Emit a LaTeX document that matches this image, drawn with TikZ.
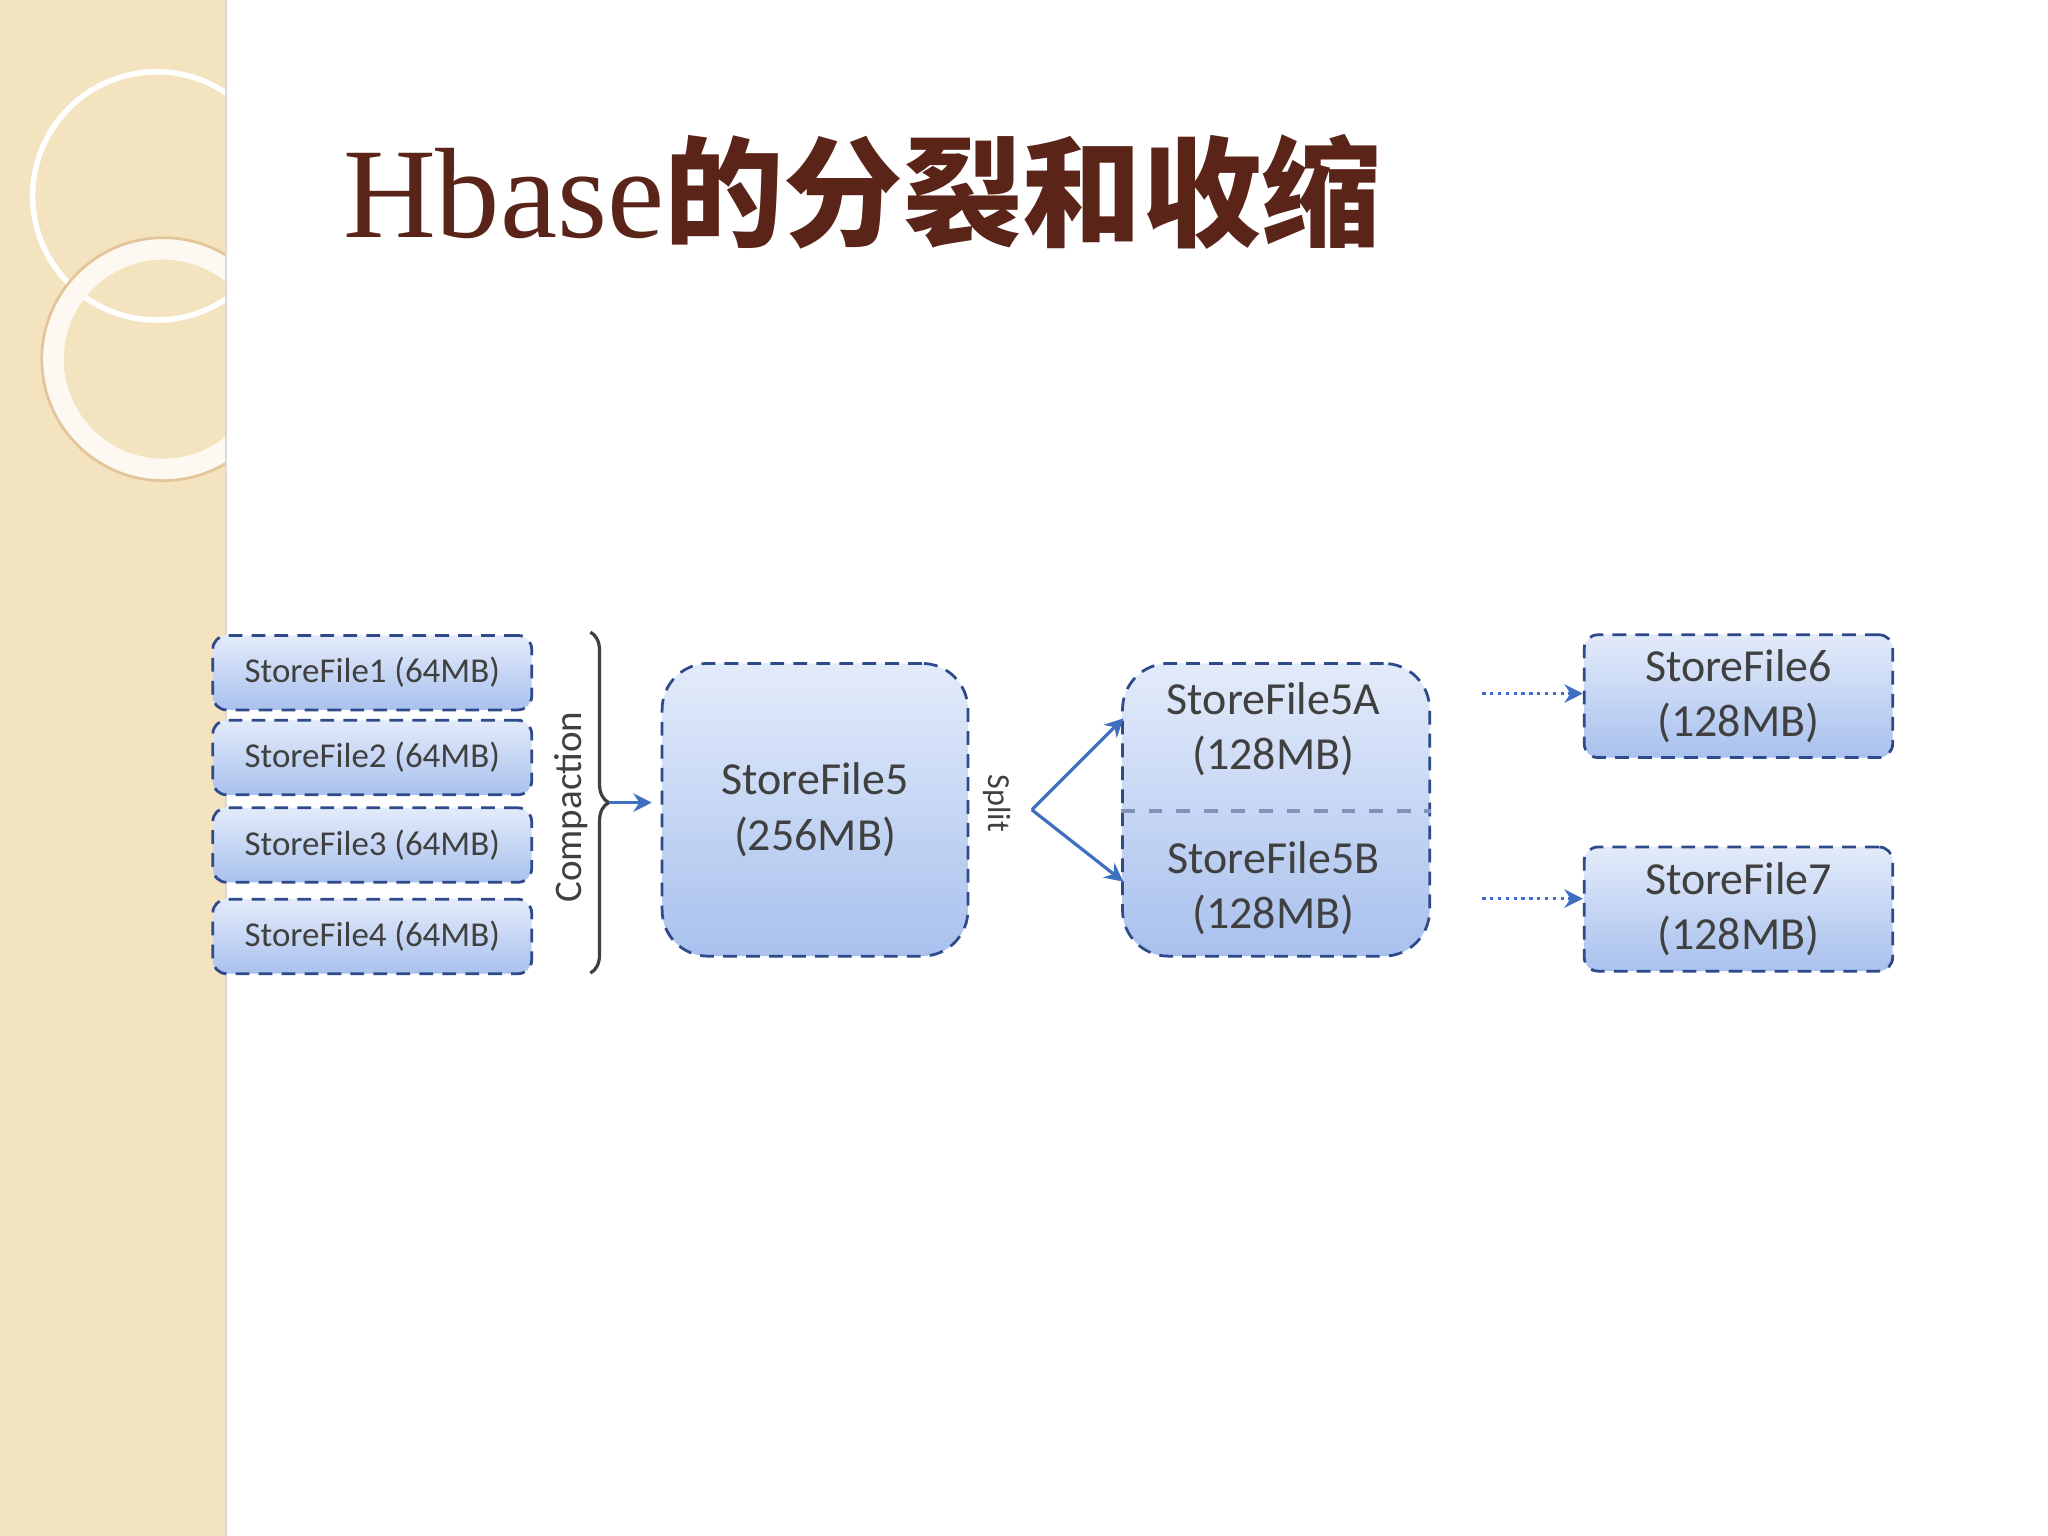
\documentclass[tikz,border=0pt]{standalone}
\usepackage{fontspec}
\setmainfont{Carlito}
\newfontfamily\titlefont{Liberation Serif}
\newfontfamily\cjk{Noto Sans CJK SC}
\usetikzlibrary{arrows.meta,decorations.pathreplacing,shadings}
\definecolor{bordc}{HTML}{2F4A8A}
\definecolor{topc}{HTML}{E3EBFA}
\definecolor{botc}{HTML}{A9C1EE}
\definecolor{titc}{HTML}{5A2418}
\definecolor{arrc}{HTML}{3F6FC0}
\definecolor{beige}{HTML}{F3E3BF}
\tikzset{
 sf/.style={draw=bordc,densely dashed,line width=0.6pt,rounded corners=3pt,top color=topc,bottom color=botc,inner sep=0pt},
 lbl/.style={text=black!75,align=center},
 small/.style={font=\fontsize{7.6}{9}\selectfont},
 big/.style={font=\fontsize{10}{12}\selectfont},
 arr/.style={draw=arrc,line width=0.7pt,-{Stealth[length=4pt,width=4pt]}},
 darr/.style={arr,densely dotted}
}
\begin{document}
\begin{tikzpicture}[x=0.01cm,y=-0.01cm]
\useasboundingbox (0,0) rectangle (1568,1176);
\fill[white] (0,0) rectangle (1568,1176);
\fill[beige] (0,0) rectangle (173,1176);
\begin{scope}
\clip (0,0) rectangle (173,1176);
\draw[white,line width=1.2pt] (120,150) circle (95);
\draw[white!80!beige,line width=5pt] (125,275) circle (85);
\draw[beige!70!brown,line width=0.6pt] (125,275) circle (93);
\end{scope}
\draw[black!15,line width=0.6pt] (173,0) -- (173,1176);
\node[anchor=base west,text=titc,inner sep=0] (title) at (262,182)
 {\titlefont\fontsize{28}{32}\selectfont Hbase\cjk\fontsize{26}{30}\selectfont\bfseries 的分裂和收缩};
\foreach \i/\y in {1/515,2/580,3/647,4/717}{
 \node[sf,minimum width=2.44cm,minimum height=0.57cm,lbl,small] (f\i) at (285,\y) {StoreFile\i\ (64MB)};
}
\draw[black!75,line width=0.7pt,decorate,decoration={brace,amplitude=4pt}] (452,484) -- (452,745);
\coordinate (btip) at (466,614.5);
\coordinate (bend) at (499,614.5);
\node[rotate=90,lbl,font=\fontsize{8.5}{10}\selectfont] (comp) at (437,618) {Compaction};
\node[sf,rounded corners=10pt,minimum width=2.34cm,minimum height=2.24cm,lbl,big] (f5) at (624,620) {StoreFile5\\(256MB)};
\draw[arr] (btip) -- (bend);
\node[rotate=-90,lbl,font=\fontsize{7}{8}\selectfont] (split) at (763,615) {Split};
\coordinate (sp) at (790,620);
\node[sf,rounded corners=10pt,minimum width=2.35cm,minimum height=2.24cm] (f5ab) at (977,620) {};
\draw[bordc!60,dashed,line width=0.8pt] (f5ab.west |- 0,621) -- (f5ab.east |- 0,621);
\node[lbl,big] (f5a) at (975,558) {StoreFile5A\\(128MB)};
\node[lbl,big] (f5b) at (975,680) {StoreFile5B\\(128MB)};
\draw[arr] (sp) -- (860,550);
\draw[arr] (sp) -- (860,675);
\node[sf,minimum width=2.36cm,minimum height=0.94cm,lbl,big] (f6) at (1331,533) {StoreFile6\\(128MB)};
\node[sf,minimum width=2.36cm,minimum height=0.95cm,lbl,big] (f7) at (1331,696) {StoreFile7\\(128MB)};
\coordinate (a6) at (1135,531);
\coordinate (a7) at (1135,688);
\draw[darr] (a6) -- (f6.west |- a6);
\draw[darr] (a7) -- (f7.west |- a7);
\end{tikzpicture}
\end{document}
